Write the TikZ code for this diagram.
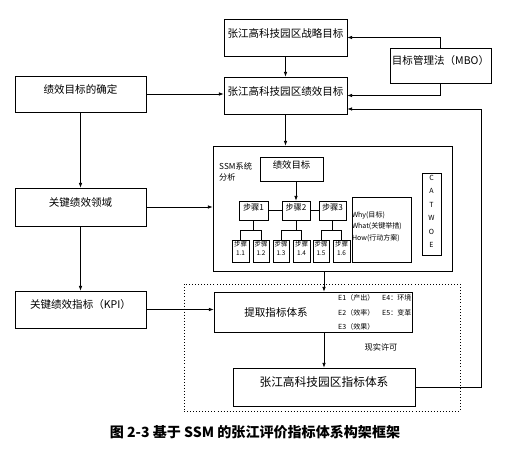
\documentclass[tikz,border=0pt]{standalone}
\usepackage{fontspec}
\setmainfont{Noto Sans CJK SC}
\usetikzlibrary{arrows.meta,fit,calc}

\begin{document}
\begin{tikzpicture}[x=0.03cm,y=-0.03cm,
    box/.style={draw,line width=0.6pt,inner sep=0pt,font=\fontsize{9}{11}\selectfont},
    arr/.style={-{Latex[length=4pt,width=3pt]},line width=0.6pt},
    ln/.style={line width=0.6pt}]
  \useasboundingbox (0,0) rectangle (510,459);
  % goals on top
  \node[box,fit={(224,19)(347,56)}] (strat) {张江高科技园区战略目标};
  \node[box,fit={(390,48)(491,83)}] (mbo) {目标管理法（MBO）};
  \node[box,fit={(224,77)(347,114)}] (perf) {张江高科技园区绩效目标};
  % left column
  \node[box,fit={(15,76)(146,112)}] (goal) {绩效目标的确定};
  \node[box,fit={(15,188)(146,226)}] (kra) {关键绩效领域};
  \node[box,fit={(15,291)(146,328)}] (kpi) {关键绩效指标（KPI）};
  % SSM analysis
  \node[box,fit={(213,146)(452,271)}] (ssm) {};
  \node[anchor=north west,align=left,inner sep=0pt,font=\fontsize{7}{10}\selectfont]
    (ssmlbl) at (219,162) {SSM系统\\分析};
  \node[box,fit={(260,157)(323,181)},font=\fontsize{8}{10}\selectfont] (ssmgoal) {绩效目标};
  \node[box,fit={(239,201)(268,220)},font=\fontsize{7}{9}\selectfont] (s1) {步骤1};
  \node[box,fit={(282,201)(310,220)},font=\fontsize{7}{9}\selectfont] (s2) {步骤2};
  \node[box,fit={(319,201)(346,220)},font=\fontsize{7}{9}\selectfont] (s3) {步骤3};
  \foreach \k/\xa/\xb in {1/232/249,2/253/269,3/273/289,4/293/310,5/313/329,6/333/350}
    \node[box,fit={(\xa,240)(\xb,262)},align=center,font=\fontsize{5.5}{8}\selectfont]
      (sub\k) {步骤\\1.\k};
  \node[box,fit={(352,197)(411,262)},align=left,font=\fontsize{6}{10}\selectfont]
    (www) {Why(目标)\\What(关键举措)\\How(行动方案)};
  \node[box,fit={(422,173)(441,255)},align=center,font=\fontsize{6}{11.5}\selectfont]
    (catwoe) {C\\A\\T\\W\\O\\E};
  % index extraction
  \node[draw,dotted,line width=0.6pt,inner sep=0pt,fit={(184,284)(460,411)}] (realm) {};
  \node[box,fill=white,fit={(214,292)(412,332)}] (extract) {};
  \node[font=\fontsize{9}{11}\selectfont] (extractlbl) at (276,312) {提取指标体系};
  \node[anchor=west,inner sep=0pt,font=\fontsize{6}{8}\selectfont] (e1) at (338,298) {E1（产出）};
  \node[anchor=west,inner sep=0pt,font=\fontsize{6}{8}\selectfont] (e4) at (382,298) {E4：环境};
  \node[anchor=west,inner sep=0pt,font=\fontsize{6}{8}\selectfont] (e2) at (338,313) {E2（效率）};
  \node[anchor=west,inner sep=0pt,font=\fontsize{6}{8}\selectfont] (e5) at (382,313) {E5：变革};
  \node[anchor=west,inner sep=0pt,font=\fontsize{6}{8}\selectfont] (e3) at (338,327) {E3（效果）};
  \node[font=\fontsize{7}{9}\selectfont] (permit) at (381,347) {现实许可};
  \node[box,fit={(233,368)(415,406)},font=\fontsize{10}{12}\selectfont] (index) {张江高科技园区指标体系};
  % connectors
  \draw[arr] (strat.south) -- (perf.north);
  \draw[arr] (mbo.north) |- (strat.east);
  \draw[arr] (mbo.south) |- (perf.east);
  \draw[arr] (goal.east) -- (goal.east -| perf.west);
  \draw[arr] (goal.south) -- (kra.north);
  \draw[arr] (kra.south) -- (kpi.north);
  \draw[arr] (kra.east) -- (kra.east -| ssm.west);
  \draw[arr] (kpi.east) -- (kpi.east -| extract.west);
  \draw[arr] (perf.south) -- (perf.south |- ssm.north);
  \draw[arr] (index.north |- ssm.south) -- (index.north |- extract.north);
  \draw[arr] (index.north |- extract.south) -- (index.north);
  \coordinate (fb) at (481,109);
  \draw[arr] (index.east) -| (fb) -- (fb -| perf.east);
  \draw[arr] (s2.north |- ssmgoal.south) -- (s2.north);
  \draw[ln] (s1.east) -- (s2.west);
  \draw[ln] (s2.east) -- (s3.west);
  \foreach \i/\a/\b in {1/1/2,2/3/4,3/5/6}{
    \draw[ln] (s\i.south) -- (s\i.south |- 0,231);
    \draw[ln] (sub\a.north) -- ++(0,-9) -| (sub\b.north);
  }
  % caption
  \node[font=\bfseries\fontsize{12}{14}\selectfont] (cap) at (255,432)
    {图 2-3 基于 SSM 的张江评价指标体系构架框架};
\end{tikzpicture}
\end{document}
